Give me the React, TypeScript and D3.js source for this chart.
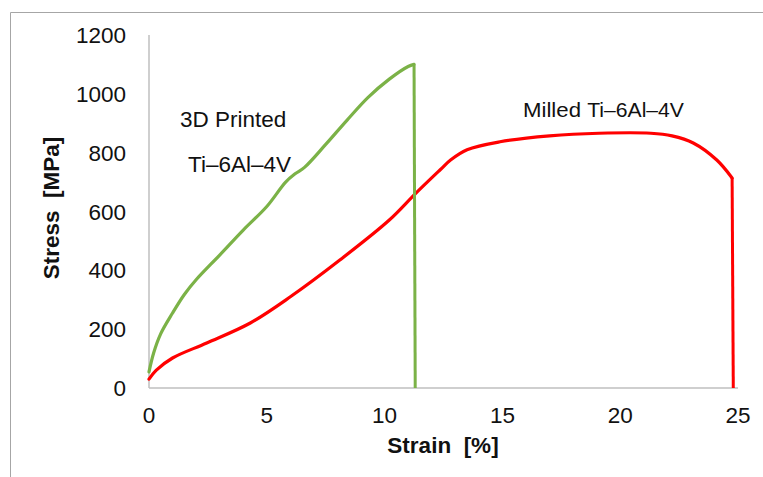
import * as d3 from "d3";

// 3D printed Ti-6Al-4V (strain %, stress MPa)
const printedStrain = [0, 0.2, 0.5, 1.0, 1.5, 2.0, 3.0, 4.0, 5.0, 5.8, 6.2, 6.6, 7.5, 8.4, 9.3, 10.2, 11.0, 11.25];
const printedStress = [55, 120, 185, 255, 318, 368, 452, 537, 617, 700, 728, 750, 828, 910, 988, 1050, 1093, 1100];
const printedBreak = 11.3;

// Milled Ti-6Al-4V
const milledStrain = [0, 0.3, 1.0, 2.45, 4.3, 6.0, 8.1, 10.2, 11.3, 12.35, 12.8, 13.5, 14.9, 17.0, 19.1, 21.3, 22.2, 23.1, 24.1, 24.75];
const milledStress = [30, 60, 102, 153, 221, 310, 435, 571, 660, 741, 775, 810, 837, 857, 866, 866, 857, 833, 775, 714];
const milledBreak = 24.8;

const xTicks = [0, 5, 10, 15, 20, 25];
const yTicks = [0, 200, 400, 600, 800, 1000, 1200];

const W = 763;
const H = 477;
const GREEN = "#7bb247";
const RED = "#ff0000";
const FONT = "'Liberation Sans', Arial, sans-serif";

export default function App() {
  const x = d3.scaleLinear().domain([0, 25]).range([149, 738]);
  const y = d3.scaleLinear().domain([0, 1200]).range([388, 35]);

  const line = d3
    .line<[number, number]>()
    .x((d) => x(d[0]))
    .y((d) => y(d[1]))
    .curve(d3.curveCatmullRom.alpha(0.5));

  const printed = printedStrain.map((s, i) => [s, printedStress[i]] as [number, number]);
  const milled = milledStrain.map((s, i) => [s, milledStress[i]] as [number, number]);
  const pLast = printed[printed.length - 1];
  const mLast = milled[milled.length - 1];

  return (
    <svg
      width={W}
      height={H}
      style={{ position: "fixed", left: 0, top: 0, display: "block", background: "#fff" }}
    >
      {/* outer frame */}
      <path d={`M10.5,${H}V12.5H${W}`} fill="none" stroke="#a6a6a6" strokeWidth={1} />

      {/* axes */}
      <line x1={x(0)} x2={x(0)} y1={y(1200)} y2={y(0)} stroke="#bfbfbf" strokeWidth={1.5} />
      <line x1={x(0)} x2={x(25)} y1={y(0)} y2={y(0)} stroke="#bfbfbf" strokeWidth={1.5} />

      {/* tick labels */}
      {yTicks.map((t) => (
        <text key={"y" + t} x={126} y={y(t)} dy="0.36em" textAnchor="end" fontFamily={FONT} fontSize={22.5} fill="#111">
          {t}
        </text>
      ))}
      {xTicks.map((t) => (
        <text key={"x" + t} x={x(t)} y={423} textAnchor="middle" fontFamily={FONT} fontSize={22.5} fill="#111">
          {t}
        </text>
      ))}

      {/* axis titles */}
      <text
        transform={`translate(59,208) rotate(-90)`}
        textAnchor="middle"
        fontFamily={FONT}
        fontSize={22.5}
        fontWeight="bold"
        fill="#111"
        style={{ whiteSpace: "pre" }}
      >
        {"Stress  [MPa]"}
      </text>
      <text
        x={443}
        y={453}
        textAnchor="middle"
        fontFamily={FONT}
        fontSize={22.5}
        fontWeight="bold"
        fill="#111"
        style={{ whiteSpace: "pre" }}
      >
        {"Strain  [%]"}
      </text>

      {/* curves */}
      <path d={line(milled) ?? ""} fill="none" stroke={RED} strokeWidth={3.2} strokeLinejoin="round" strokeLinecap="round" />
      <line x1={x(mLast[0])} y1={y(mLast[1])} x2={x(milledBreak)} y2={y(0)} stroke={RED} strokeWidth={3} />
      <path d={line(printed) ?? ""} fill="none" stroke={GREEN} strokeWidth={3.2} strokeLinejoin="round" strokeLinecap="round" />
      <line x1={x(pLast[0])} y1={y(pLast[1])} x2={x(printedBreak)} y2={y(0)} stroke={GREEN} strokeWidth={3} />

      {/* annotations */}
      <text x={180} y={127} fontFamily={FONT} fontSize={22.5} fill="#111">3D Printed</text>
      <text x={188} y={172} fontFamily={FONT} fontSize={22.5} fill="#111">Ti–6Al–4V</text>
      <text x={523} y={117} fontFamily={FONT} fontSize={21} fill="#111" textLength={161} lengthAdjust="spacingAndGlyphs">
        Milled <tspan fontSize={20}>Ti–6Al–4V</tspan>
      </text>
    </svg>
  );
}
